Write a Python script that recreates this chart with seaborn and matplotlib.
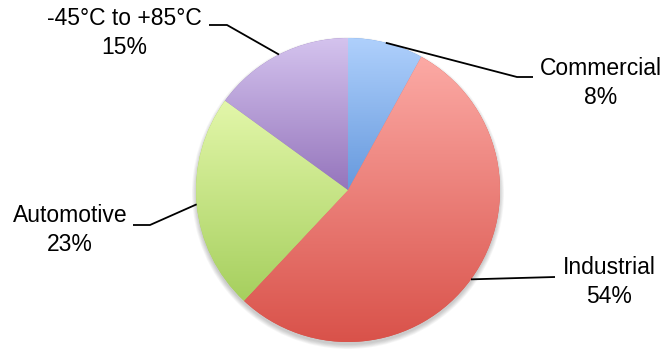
import numpy as np
import matplotlib
matplotlib.use("Agg")
import matplotlib.pyplot as plt
import seaborn as sns
from matplotlib.colors import LinearSegmentedColormap
from matplotlib.patches import Circle

# Share of units by operating range / market segment
segments = ["Commercial", "Industrial", "Automotive", "-45°C to +85°C"]
shares = [8, 54, 23, 15]
pct_labels = [f"{s}%" for s in shares]

# vertical gradient per slice (top -> bottom)
top_colors = ["#AFD0FC", "#FCAAA5", "#E3F7AA", "#D4C3EE"]
bottom_colors = ["#6699DD", "#D9524A", "#A6CF5E", "#9575BC"]

W, H = 668, 350
cx, cy, R = 348, 190, 152          # pie centre / radius in px (from top-left)

# label text centre, leader elbow and leader end (px from top-left)
label_xy = [(601, 83), (609, 282), (70, 230), (124, 33)]
elbow_xy = [(517, 77), (555, 277), (150, 225), (227, 25)]
end_xy = [(533, 77), (555, 277), (133, 225), (209, 25)]

sns.set_theme(style="white")
plt.rcParams["font.family"] = ["Liberation Sans", "DejaVu Sans"]

fig = plt.figure(figsize=(W / 100, H / 100), dpi=100)
ax = fig.add_axes([0, 0, 1, 1])


def up(y):
    return H - y


# soft drop shadow under the pie
for k in range(6):
    ax.add_patch(Circle((cx, up(cy) - 3), R + 0.8 * k, color="black",
                        alpha=0.035, lw=0, zorder=0.5))

wedges, _ = ax.pie(shares, startangle=90, counterclock=False,
                   center=(cx, up(cy)), radius=R, colors=bottom_colors,
                   wedgeprops=dict(linewidth=0), normalize=True)

for w, c_top, c_bot in zip(wedges, top_colors, bottom_colors):
    w.set_zorder(1)
    t = np.radians(np.linspace(w.theta1, w.theta2, 200))
    xs = np.concatenate([[cx], cx + R * np.cos(t)])
    ys = np.concatenate([[up(cy)], up(cy) + R * np.sin(t)])
    cmap = LinearSegmentedColormap.from_list("g", [c_top, c_bot])
    grad = np.linspace(0, 1, 256).reshape(-1, 1)
    im = ax.imshow(grad, cmap=cmap, extent=[xs.min(), xs.max(), ys.min(), ys.max()],
                   origin="upper", aspect="auto", interpolation="bilinear", zorder=2)
    im.set_clip_path(w)

# leader lines and labels
for w, name, pct, lab, elb, end in zip(wedges, segments, pct_labels,
                                       label_xy, elbow_xy, end_xy):
    mid = np.radians((w.theta1 + w.theta2) / 2)
    ex, ey = cx + R * np.cos(mid), up(cy) + R * np.sin(mid)
    ax.plot([ex, elb[0], end[0]], [ey, up(elb[1]), up(end[1])],
            color="black", lw=1.3, zorder=3, solid_capstyle="butt")
    ax.text(lab[0], up(lab[1]), f"{name}\n{pct}", ha="center", va="center",
            fontsize=16.5, color="black", linespacing=1.3, zorder=4)

ax.set_xlim(0, W)
ax.set_ylim(0, H)
ax.set_aspect("equal")
ax.axis("off")
fig.savefig("out.png", dpi=100)
